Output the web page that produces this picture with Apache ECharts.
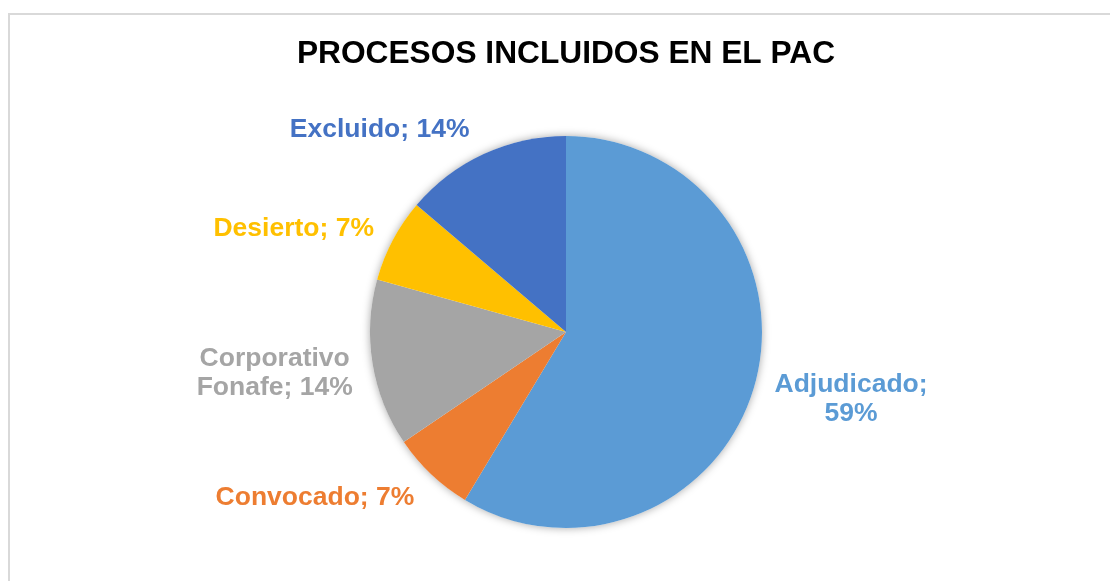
<!DOCTYPE html>
<html lang="es">
  <head>
    <meta charset="UTF-8" />
    <title>Procesos incluidos en el PAC</title>
    <style>
      html, body { margin: 0; padding: 0; background: #fff; }
      #main { width: 1110px; height: 581px; }
    </style>
  </head>
  <body>
    <div id="main"></div>
    <script src="https://cdn.jsdelivr.net/npm/echarts@6/dist/echarts.min.js"></script>
    <script>
      // datos (conteos que dan 59/7/14/7/14 %)
      const categories = ["Adjudicado", "Convocado", "Corporativo\nFonafe", "Desierto", "Excluido"];
      const values = [17, 2, 4, 2, 4];
      const colors = ["#5B9BD5", "#ED7D31", "#A5A5A5", "#FFC000", "#4472C4"];
      // separador entre nombre y porcentaje (Adjudicado se parte en dos lineas)
      const seps = [";\n", "; ", "; ", "; ", "; "];

      const cx = 566, cy = 332, R = 196;
      const total = values.reduce((a, b) => a + b, 0);

      // angulo medio de cada porcion (desde las 12, sentido horario)
      const mids = [];
      let acc = 0;
      for (let v of values) {
        mids.push(((acc + v / 2) / total) * Math.PI * 2);
        acc += v;
      }

      const chart = echarts.init(document.getElementById("main"));
      const font = '"Liberation Sans", Arial, sans-serif';

      chart.setOption({
        animation: false,
        graphic: [
          {
            type: "rect",
            shape: { x: 9, y: 14, width: 1200, height: 700 },
            style: { fill: "none", stroke: "#d9d9d9", lineWidth: 2 },
            silent: true,
          },
          {
            // titulo centrado sobre el circulo
            type: "text",
            x: cx,
            y: 54,
            style: {
              text: "PROCESOS INCLUIDOS EN EL PAC",
              fill: "#000",
              font: "bold 31.7px " + font,
              align: "center",
              verticalAlign: "middle",
            },
            silent: true,
          },
        ],
        series: [
          {
            // sombra suave bajo el circulo
            type: "pie",
            center: [cx, cy],
            radius: R,
            silent: true,
            z: 1,
            label: { show: false },
            labelLine: { show: false },
            data: [{ value: 1, itemStyle: { color: "#fff", shadowBlur: 8, shadowColor: "rgba(0,0,0,0.35)" } }],
          },
          {
            type: "pie",
            center: [cx, cy],
            radius: R,
            startAngle: 90,
            clockwise: true,
            z: 2,
            data: categories.map((c, i) => ({
              name: c,
              value: values[i],
              itemStyle: { color: colors[i] },
              label: { color: colors[i] },
            })),
            label: {
              show: true,
              position: "outside",
              formatter: (p) => p.name + seps[p.dataIndex] + Math.round(p.percent) + "%",
              fontFamily: font,
              fontSize: 26.5,
              fontWeight: "bold",
              lineHeight: 29,
              align: "center",
            },
            labelLine: { show: false },
            labelLayout: function (params) {
              const a = mids[params.dataIndex];
              const dx = Math.sin(a), dy = -Math.cos(a);
              const w = params.labelRect.width, h = params.labelRect.height;
              const px = cx + (R + 10) * dx;
              const py = cy + (R + 10) * dy;
              return {
                x: px + Math.sign(dx) * (w / 2 + 10),
                y: py + dy * (h / 2) * 1.3 + 2,
                align: "center",
                verticalAlign: "middle",
              };
            },
          },
        ],
      });
    </script>
  </body>
</html>
